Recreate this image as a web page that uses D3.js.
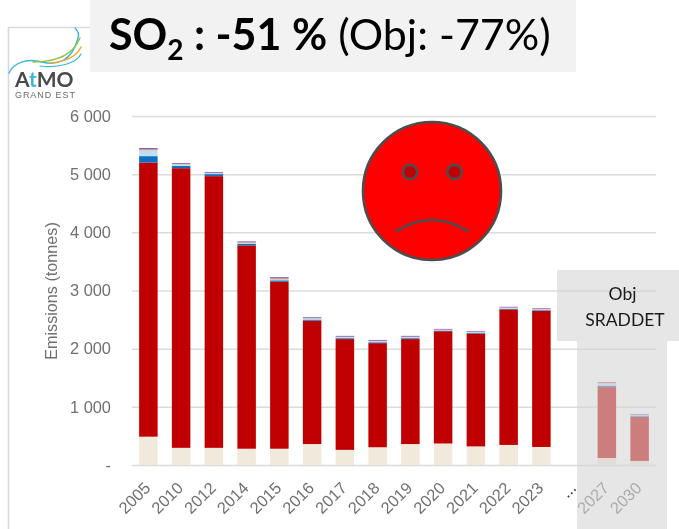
<!DOCTYPE html>
<html><head><meta charset="utf-8">
<script src="https://cdn.jsdelivr.net/npm/d3@7/dist/d3.min.js"></script>
<style>html,body{margin:0;padding:0;background:#fff;overflow:hidden}svg{display:block;filter:blur(0.35px)}</style>
</head><body><svg id="c" width="679" height="529"></svg>
<script>
const categories = ["2005","2010","2012","2014","2015","2016","2017","2018","2019","2020","2021","2022","2023","...","2027","2030"];
const seriesNames = ["beige","red","blue","lightblue","orange","purple"];
const beige     = [487,295,295,280,280,360,260,305,360,370,320,345,310,0,120,70];
const red       = [4713,4808,4671,3495,2870,2120,1905,1790,1805,1930,1940,2330,2340,0,1220,755];
const blue      = [110,40,35,30,25,20,15,15,15,12,12,12,12,0,25,15];
const lightblue = [100,25,15,15,15,20,20,20,20,12,15,15,15,0,35,15];
const orange    = [15,7,4,12,20,5,5,5,5,4,6,6,6,0,10,5];
const purple    = [25,15,15,13,20,15,15,15,15,12,12,12,12,0,15,15];
const colors    = ["#f0e9dc","#c00000","#0f6fc0","#bfe0ee","#d99a5b","#8d5fb5"];
const yTicks = [0,1000,2000,3000,4000,5000,6000];
const rows = categories.map((c,i)=>({cat:c,beige:beige[i],red:red[i],blue:blue[i],lightblue:lightblue[i],orange:orange[i],purple:purple[i]}));

const svg = d3.select("#c");
const x = d3.scaleBand().domain(categories).range([132,656]).paddingInner(0.435).paddingOuter(0.2175);
const y = d3.scaleLinear().domain([0,6000]).range([465,116]);
const grey = "#707070", sans = "'Liberation Sans',Arial,sans-serif";

// frame
svg.append("path").attr("d","M8.5 529V27.5H95").attr("fill","none").attr("stroke","#d9d9d9").attr("stroke-width",1.6);

// y axis + grid
const yAxis = d3.axisLeft(y).tickValues(yTicks).tickSize(0).tickPadding(21)
  .tickFormat(d=> d===0 ? "-" : d3.format(",")(d).replace(",", " "));
const gy = svg.append("g").attr("transform","translate(132,0)").call(yAxis);
gy.select(".domain").remove();
gy.selectAll("text").attr("fill",grey).attr("font-family",sans).attr("font-size",16.4);
gy.selectAll(".tick").append("line").attr("x1",0).attr("x2",524).attr("stroke","#dcdcdc").attr("stroke-width",1.5);

// stacked bars
const stacked = d3.stack().keys(seriesNames)(rows);
svg.append("g").selectAll("g").data(stacked).join("g").attr("fill",(d,i)=>colors[i])
  .selectAll("rect").data(d=>d.map(v=>({v,cat:v.data.cat}))).join("rect")
  .attr("x",d=>x(d.cat)).attr("width",x.bandwidth())
  .attr("y",d=>y(d.v[1])).attr("height",d=>y(d.v[0])-y(d.v[1]));

// x axis
const xAxis = d3.axisBottom(x).tickSize(0).tickPadding(0);
const gx = svg.append("g").attr("transform","translate(0,465)").call(xAxis);
gx.select(".domain").remove();
gx.selectAll("text").attr("fill",d=>d==="..."?"#333":grey).attr("font-family",sans).attr("font-size",16.4)
  .attr("text-anchor","end").attr("dy",0).attr("y",0)
  .attr("transform","translate(3,24) rotate(-45)");

// axis title
svg.append("text").attr("transform","translate(57,291) rotate(-90)").attr("text-anchor","middle")
  .attr("font-family",sans).attr("font-size",16.2).attr("fill",grey).text("Emissions (tonnes)");

// objective panel (translucent over the chart)
svg.append("path").attr("d","M557 270H679V341H667V529H577V341H557Z").attr("fill","rgb(212,212,212)").attr("fill-opacity",0.59);
const obj = svg.append("text").attr("font-family","Lato,'Noto Sans',sans-serif").attr("font-size",17.5).attr("fill","#1a1a1a").attr("text-anchor","middle");
obj.append("tspan").attr("x",622.5).attr("y",300).text("Obj");
obj.append("tspan").attr("x",625).attr("y",326).text("SRADDET");

// title
svg.append("rect").attr("x",90).attr("y",0).attr("width",486).attr("height",72).attr("fill","#f2f2f2");
const t = svg.append("text").attr("x",109).attr("y",50).attr("font-family","Lato,'Noto Sans',sans-serif").attr("font-size",43).attr("fill","#000");
t.append("tspan").attr("font-weight",700).text("SO");
t.append("tspan").attr("font-weight",700).attr("font-size",28).attr("dy",10).text("2");
t.append("tspan").attr("font-weight",700).attr("dy",-10).text(" : -51 %");
t.append("tspan").text(" (Obj: -77%)");

// smiley
const face = svg.append("g").attr("stroke","#4d4d4d");
face.append("circle").attr("cx",432).attr("cy",191).attr("r",69).attr("fill","#ff0000").attr("stroke-width",2.6);
face.selectAll(".eye").data([410,454.5]).join("circle").attr("cx",d=>d).attr("cy",172).attr("r",7.2).attr("fill","#c00000").attr("stroke-width",2.6);
face.append("path").attr("d","M395 232Q432 208 469 232").attr("fill","none").attr("stroke-width",2.6);

// logo
const logo = svg.append("g").attr("fill","none").attr("stroke-linecap","round");
logo.append("path").attr("d","M9 73C14 62 28 58 42 62C56 66 72 62 78 38C80 33 77 30 75 28").attr("stroke","#3cb4e0").attr("stroke-width",1.4);
logo.append("path").attr("d","M33 62C50 62 72 58 80 38").attr("stroke","#8cc63f").attr("stroke-width",1.4);
logo.append("path").attr("d","M50 63C62 62 76 58 81 47").attr("stroke","#f5a623").attr("stroke-width",1.4);
logo.append("path").attr("d","M40 66C58 68 76 64 81 54").attr("stroke","#3cb4e0").attr("stroke-width",1.2);
const lt = svg.append("text").attr("x",15).attr("y",87).attr("font-family","Lato,sans-serif").attr("font-weight",700).attr("font-size",21).attr("fill","#4a4a4a");
lt.append("tspan").text("A");
lt.append("tspan").attr("fill","#3cb4e0").text("t");
lt.append("tspan").text("MO");
svg.append("text").attr("x",15).attr("y",98).attr("font-family",sans).attr("font-size",9).attr("fill","#6a6a6a").attr("textLength",60).text("GRAND EST");
</script></body></html>
